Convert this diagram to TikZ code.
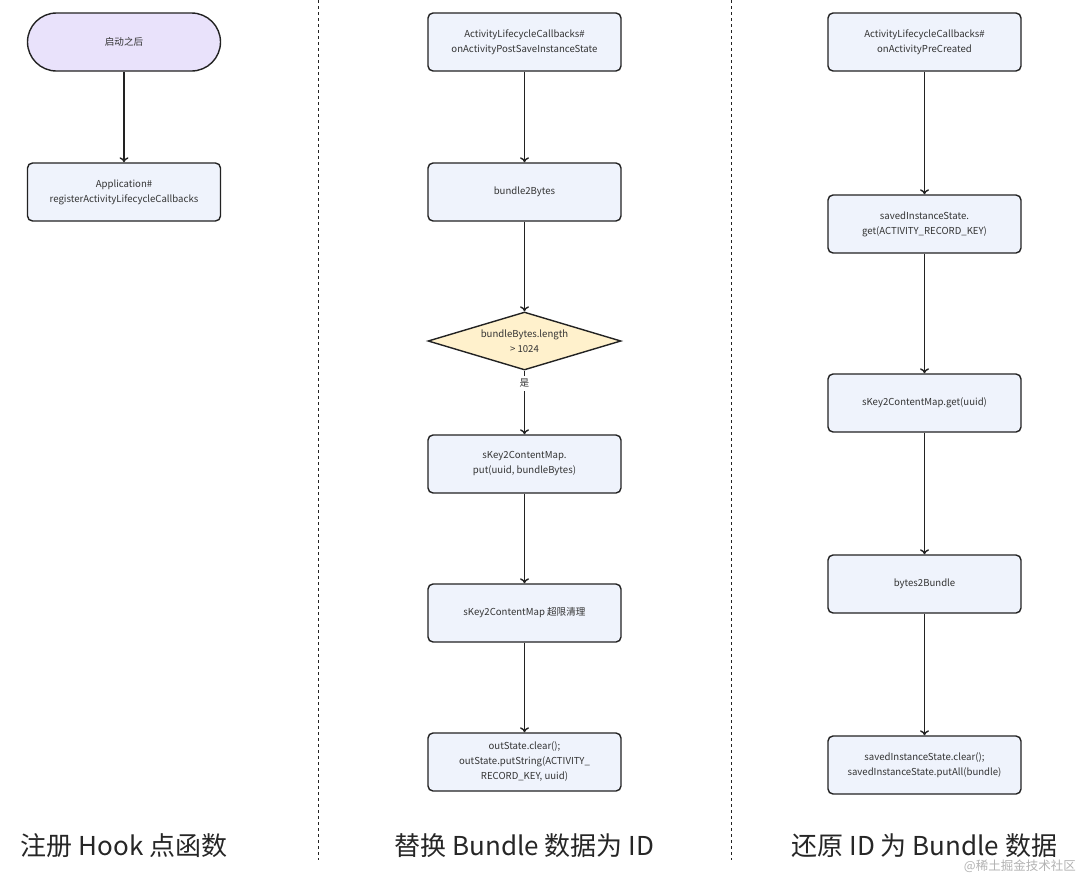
\documentclass[tikz,border=0pt]{standalone}
\usepackage{fontspec}
\setmainfont{Noto Sans CJK SC}
\usepackage{tikz}
\usetikzlibrary{arrows.meta, positioning, shapes.geometric}

\definecolor{boxfill}{HTML}{EFF3FC}
\definecolor{startfill}{HTML}{E9E2FB}
\definecolor{condfill}{HTML}{FFF1CC}
\definecolor{inkline}{HTML}{222222}
\definecolor{inktext}{HTML}{333333}

\begin{document}
\begin{tikzpicture}[
  x=1pt, y=-1pt,
  box/.style={draw=inkline, line width=1.4pt, rounded corners=5pt, fill=boxfill,
              minimum width=193pt, minimum height=58pt, align=center,
              text=inktext, font=\fontsize{9.6}{15}\selectfont},
  startbox/.style={box, rounded corners=29pt, fill=startfill},
  cond/.style={diamond, aspect=3.33, draw=inkline, line width=1.4pt, fill=condfill,
               minimum width=193pt, minimum height=58pt, inner sep=0pt,
               align=center, text=inktext, font=\fontsize{9.6}{15}\selectfont},
  flow/.style={-{To[length=5pt, width=9pt]}, draw=inkline, line width=1.4pt},
  divider/.style={dashed, draw=inkline, line width=0.8pt},
  title/.style={text=black!85, font=\fontsize{26}{30}\selectfont},
  every node/.style={font=\fontsize{9.6}{15}\selectfont}
]
  \useasboundingbox (0,0) rectangle (1080,876);

  % column 1
  \node[startbox] (start) at (124,42)  {启动之后};
  \node[box]      (app)   at (124,192) {Application\#\\registerActivityLifecycleCallbacks};
  \draw[flow] (start) -- (app);

  % column 2
  \node[box]  (post)  at (524.5,42)  {ActivityLifecycleCallbacks\#\\onActivityPostSaveInstanceState};
  \node[box]  (tobytes) at (524.5,192) {bundle2Bytes};
  \node[cond] (large) at (524.5,341) {bundleBytes.length\\> 1024};
  \node[box]  (put)   at (524.5,464) {sKey2ContentMap.\\put(uuid, bundleBytes)};
  \node[box]  (clean) at (524.5,613) {sKey2ContentMap 超限清理};
  \node[box]  (out)   at (524.5,762) {outState.clear();\\outState.putString(ACTIVITY\_\\RECORD\_KEY, uuid)};
  \draw[flow] (post) -- (tobytes);
  \draw[flow] (tobytes) -- (large);
  \draw[flow] (large) -- node[pos=0.2, fill=white, text=inktext, inner sep=3pt] {是} (put);
  \draw[flow] (put) -- (clean);
  \draw[flow] (clean) -- (out);

  % column 3
  \node[box] (pre)     at (924.5,42)  {ActivityLifecycleCallbacks\#\\onActivityPreCreated};
  \node[box] (getkey)  at (924.5,224) {savedInstanceState.\\get(ACTIVITY\_RECORD\_KEY)};
  \node[box] (getmap)  at (924.5,403) {sKey2ContentMap.get(uuid)};
  \node[box] (tobundle) at (924.5,584) {bytes2Bundle};
  \node[box] (restore) at (924.5,765) {savedInstanceState.clear();\\savedInstanceState.putAll(bundle)};
  \draw[flow] (pre) -- (getkey);
  \draw[flow] (getkey) -- (getmap);
  \draw[flow] (getmap) -- (tobundle);
  \draw[flow] (tobundle) -- (restore);

  % dividers and titles
  \coordinate (d1top) at (318,0);
  \coordinate (d1bot) at (318,860);
  \coordinate (d2top) at (731,0);
  \coordinate (d2bot) at (731,860);
  \draw[divider] (d1top) -- (d1bot);
  \draw[divider] (d2top) -- (d2bot);
  \node[title] (t1) at (124,846) {注册 Hook 点函数};
  \node[title] (t2) at (524.5,846) {替换 Bundle 数据为 ID};
  \node[title] (t3) at (924.5,846) {还原 ID 为 Bundle 数据};
  \node[text=black!30, font=\fontsize{12.5}{14}\selectfont, anchor=east, inner sep=1pt] (mark) at (1077,866) {@稀土掘金技术社区};
\end{tikzpicture}
\end{document}
